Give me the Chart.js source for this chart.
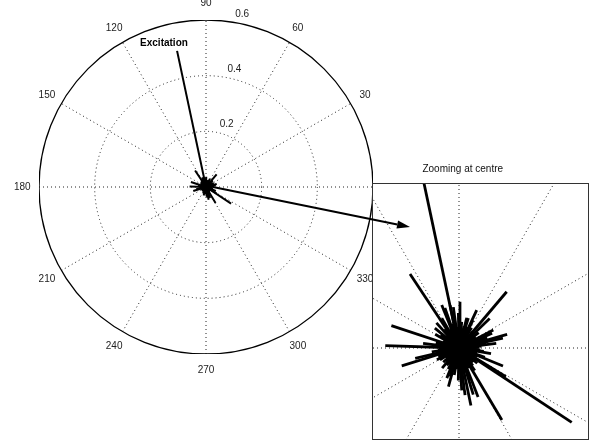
<!DOCTYPE html>
<html>
<head>
<meta charset="utf-8">
<script src="https://cdn.jsdelivr.net/npm/chart.js@4"></script>
<style>
  html, body { margin: 0; padding: 0; background: #fff; }
  #wrap { position: relative; width: 593px; height: 446px; overflow: hidden; }
  canvas { position: absolute; }
</style>
</head>
<body>
<div id="wrap">
  <canvas id="mainPolar" width="593" height="446" style="left:0;top:0"></canvas>
  <canvas id="zoomPolar" width="231" height="291" style="left:362px;top:155px"></canvas>
  <canvas id="overlay" width="593" height="446" style="left:0;top:0"></canvas>
</div>
<script>
// Response directions (degrees) and magnitudes; the first entry is the excitation.
const stemAngles = [
  102, 123.5, 161.7, 178.2, 197.4, 49.7, 15.7, 12.8, 326.6, 300.8,
  291.3, 281.7, 277.3, 254.7, 328.5, 88.8, 75.6, 63.4, 132, 120,
  101.8, 97.9, 72.6, 65, 172.5, 193.2, 7, 27.7, 252.6, 289,
  273.7, 287, 111.9, 109.4, 91, 43.8, 24, 140.6, 268.8, 337.8,
  208, 248,
  0, 5, 18, 33, 38, 55, 58, 80, 84, 94,
  105, 115, 127, 137, 145, 150, 155, 167, 183, 188,
  203, 215, 222, 230, 238, 243, 260, 263, 285, 296,
  305, 315, 320, 345, 352, 357, 10, 45, 70, 118,
  175, 200, 233, 270, 300, 340, 350, 20,
  2, 13, 25, 30, 41, 50, 61, 67, 77, 87,
  99, 108, 112, 122, 130, 134, 142, 158, 164, 170,
  180, 186, 195, 206, 212, 219, 226, 235, 241, 246,
  251, 257, 266, 274, 280, 292, 298, 308, 312, 318,
  325, 333, 336, 343, 355
];
const stemMagnitudes = [
  0.50, 0.071, 0.057, 0.059, 0.048, 0.059, 0.040, 0.036, 0.108, 0.067,
  0.042, 0.047, 0.038, 0.032, 0.044, 0.037, 0.025, 0.025, 0.027, 0.0275,
  0.035, 0.033, 0.025, 0.0335, 0.029, 0.036, 0.030, 0.031, 0.024, 0.027,
  0.034, 0.039, 0.037, 0.034, 0.028, 0.034, 0.029, 0.025, 0.026, 0.038,
  0.020, 0.026,
  0.014, 0.018, 0.011, 0.016, 0.020, 0.013, 0.019, 0.015, 0.021, 0.017,
  0.020, 0.016, 0.019, 0.014, 0.018, 0.022, 0.012, 0.019, 0.016, 0.022,
  0.018, 0.013, 0.017, 0.021, 0.015, 0.019, 0.022, 0.017, 0.020, 0.018,
  0.022, 0.016, 0.019, 0.015, 0.020, 0.012, 0.022, 0.012, 0.018, 0.012,
  0.013, 0.011, 0.010, 0.013, 0.012, 0.022, 0.026, 0.024,
  0.016, 0.013, 0.017, 0.014, 0.012, 0.017, 0.015, 0.013, 0.018, 0.014,
  0.016, 0.013, 0.018, 0.015, 0.017, 0.012, 0.016, 0.014, 0.018, 0.015,
  0.013, 0.017, 0.014, 0.016, 0.018, 0.013, 0.015, 0.017, 0.012, 0.016,
  0.014, 0.018, 0.015, 0.017, 0.013, 0.016, 0.014, 0.018, 0.013, 0.016,
  0.017, 0.014, 0.016, 0.013, 0.017
];

// Polar grid: rings and angular spokes
const ringTicks = [0.2, 0.4, 0.6];
const rMax = 0.6;
const spokeAngles = [0, 30, 60, 90, 120, 150, 180, 210, 240, 270, 300, 330];
const angleLabels = ['0', '30', '60', '90', '120', '150', '180', '210', '240', '270', '300', '330'];

// Annotations
const excitationText = 'Excitation';
const excitationTextAt = { x: -0.151, y: 0.517 };
const arrowFrom = { x: 0.025, y: 0 };
const arrowTo = { x: 0.733, y: -0.144 };
const zoomTitle = 'Zooming at centre';

// Axis limits of the magnified view of the centre
const zoomXMin = -0.0696, zoomXMax = 0.104;
const zoomYMin = -0.0736, zoomYMax = 0.132;

const FONT = '"Liberation Sans", Arial, Helvetica, sans-serif';
const rad = d => d * Math.PI / 180;

function stemDatasets(width) {
  return stemAngles.map((a, i) => ({
    data: [
      { x: 0, y: 0 },
      { x: stemMagnitudes[i] * Math.cos(rad(a)), y: stemMagnitudes[i] * Math.sin(rad(a)) }
    ],
    showLine: true,
    borderColor: '#000',
    borderWidth: width,
    borderCapStyle: 'butt',
    pointRadius: 0,
    pointHoverRadius: 0
  }));
}

// Dotted rings and spokes, solid outer circle
const polarGrid = {
  id: 'polarGrid',
  beforeDatasetsDraw(chart) {
    const { ctx, chartArea: a, scales: { x, y } } = chart;
    const cx = x.getPixelForValue(0), cy = y.getPixelForValue(0);
    const k = x.getPixelForValue(1) - cx;
    ctx.save();
    ctx.beginPath();
    ctx.rect(a.left, a.top, a.right - a.left, a.bottom - a.top);
    ctx.clip();
    ctx.strokeStyle = '#222';
    ctx.lineWidth = 1;
    ctx.setLineDash([1, 3]);
    for (let i = 0; i < 6; i++) {
      const t = rad(spokeAngles[i]);
      ctx.beginPath();
      ctx.moveTo(cx - rMax * k * Math.cos(t), cy + rMax * k * Math.sin(t));
      ctx.lineTo(cx + rMax * k * Math.cos(t), cy - rMax * k * Math.sin(t));
      ctx.stroke();
    }
    ringTicks.forEach(r => {
      if (r >= rMax) return;
      ctx.beginPath();
      ctx.arc(cx, cy, r * k, 0, Math.PI * 2);
      ctx.stroke();
    });
    ctx.setLineDash([]);
    ctx.strokeStyle = '#000';
    ctx.lineWidth = 1.3;
    ctx.beginPath();
    ctx.arc(cx, cy, rMax * k, 0, Math.PI * 2);
    ctx.stroke();
    ctx.restore();
  }
};

// Angle and ring labels plus the excitation note on the full view
const polarLabels = {
  id: 'polarLabels',
  afterDraw(chart) {
    const { ctx, scales: { x, y } } = chart;
    const cx = x.getPixelForValue(0), cy = y.getPixelForValue(0);
    const k = x.getPixelForValue(1) - cx;
    ctx.save();
    ctx.fillStyle = '#222';
    ctx.font = '10px ' + FONT;
    ctx.textAlign = 'center';
    ctx.textBaseline = 'middle';
    spokeAngles.forEach((a, i) => {
      const t = rad(a);
      ctx.fillText(angleLabels[i], cx + 1.1 * rMax * k * Math.cos(t), cy - 1.1 * rMax * k * Math.sin(t));
    });
    ctx.textAlign = 'left';
    ctx.textBaseline = 'bottom';
    const t82 = rad(82);
    ringTicks.forEach(r => {
      const rr = (r + 0.01) * k;
      ctx.fillText('  ' + r.toFixed(1), cx + rr * Math.cos(t82), cy - rr * Math.sin(t82));
    });
    ctx.font = 'bold 10px ' + FONT;
    ctx.fillStyle = '#000';
    ctx.textAlign = 'center';
    ctx.textBaseline = 'middle';
    ctx.fillText(excitationText, x.getPixelForValue(excitationTextAt.x), y.getPixelForValue(excitationTextAt.y));
    ctx.restore();

    // Pointer from the centre to the magnified view, drawn on the top layer
    const o = document.getElementById('overlay').getContext('2d');
    const x0 = x.getPixelForValue(arrowFrom.x), y0 = y.getPixelForValue(arrowFrom.y);
    const x1 = x.getPixelForValue(arrowTo.x), y1 = y.getPixelForValue(arrowTo.y);
    const ang = Math.atan2(y1 - y0, x1 - x0);
    const headLen = 13, headHalf = 4;
    const bx = x1 - headLen * Math.cos(ang), by = y1 - headLen * Math.sin(ang);
    o.save();
    o.strokeStyle = '#000';
    o.fillStyle = '#000';
    o.lineWidth = 2;
    o.beginPath();
    o.moveTo(x0, y0);
    o.lineTo(bx, by);
    o.stroke();
    o.beginPath();
    o.moveTo(x1, y1);
    o.lineTo(bx + headHalf * Math.sin(ang), by - headHalf * Math.cos(ang));
    o.lineTo(bx - headHalf * Math.sin(ang), by + headHalf * Math.cos(ang));
    o.closePath();
    o.fill();
    o.restore();
  }
};

// White panel, frame and title of the magnified view
const zoomFrame = {
  id: 'zoomFrame',
  beforeDraw(chart) {
    const { ctx, chartArea: a } = chart;
    ctx.save();
    ctx.fillStyle = '#fff';
    ctx.fillRect(a.left, a.top, a.right - a.left, a.bottom - a.top);
    // the panel also hides the "0" label sitting just above its top edge
    ctx.fillRect(a.left + 8, a.top - 4, a.right - a.left - 8, 4);
    ctx.restore();
  },
  afterDraw(chart) {
    const { ctx, chartArea: a, scales: { x } } = chart;
    ctx.save();
    ctx.strokeStyle = '#333';
    ctx.lineWidth = 1;
    ctx.strokeRect(a.left + 0.5, a.top + 0.5, a.right - a.left - 1, a.bottom - a.top - 1);
    ctx.fillStyle = '#111';
    ctx.font = '10px ' + FONT;
    ctx.textAlign = 'center';
    ctx.textBaseline = 'middle';
    ctx.fillText(zoomTitle, x.getPixelForValue(0.003), a.top - 14);
    ctx.restore();
  }
};

const commonPlugins = {
  legend: { display: false },
  tooltip: { enabled: false },
  title: { display: false }
};

new Chart(document.getElementById('mainPolar'), {
  type: 'scatter',
  data: { datasets: stemDatasets(2) },
  options: {
    responsive: false,
    animation: false,
    devicePixelRatio: 1,
    events: [],
    layout: { padding: { left: 39, right: 220, top: 20, bottom: 92 } },
    scales: {
      x: { type: 'linear', min: -rMax, max: rMax, display: false },
      y: { type: 'linear', min: -rMax, max: rMax, display: false }
    },
    plugins: commonPlugins
  },
  plugins: [polarGrid, polarLabels]
});

new Chart(document.getElementById('zoomPolar'), {
  type: 'scatter',
  data: { datasets: stemDatasets(2.8) },
  options: {
    responsive: false,
    animation: false,
    devicePixelRatio: 1,
    events: [],
    layout: { padding: { left: 10, right: 4, top: 28, bottom: 6 } },
    scales: {
      x: { type: 'linear', min: zoomXMin, max: zoomXMax, display: false },
      y: { type: 'linear', min: zoomYMin, max: zoomYMax, display: false }
    },
    plugins: commonPlugins
  },
  plugins: [zoomFrame, polarGrid]
});
</script>
</body>
</html>
